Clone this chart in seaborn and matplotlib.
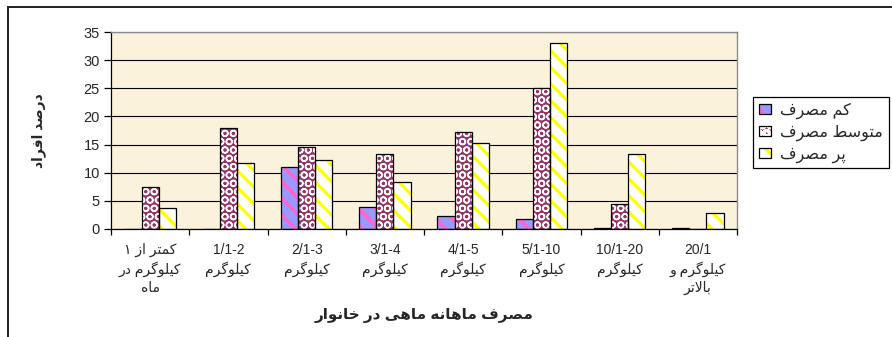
import numpy as np
import pandas as pd
import matplotlib
matplotlib.use("Agg")
import matplotlib.pyplot as plt
from matplotlib.patches import Rectangle, Patch
import seaborn as sns

# ---- data -------------------------------------------------------------
categories = [
    "کمتر از ۱\nکیلوگرم در\nماه",
    "1/1-2\nکیلوگرم",
    "2/1-3\nکیلوگرم",
    "3/1-4\nکیلوگرم",
    "4/1-5\nکیلوگرم",
    "5/1-10\nکیلوگرم",
    "10/1-20\nکیلوگرم",
    "20/1\nکیلوگرم و\nبالاتر",
]
series_names = ["کم مصرف", "متوسط مصرف", "پر مصرف"]
low_use = [0.0, 0.0, 11.1, 3.9, 2.3, 1.7, 0.15, 0.15]
mid_use = [7.4, 17.9, 14.6, 13.4, 17.3, 25.0, 4.5, 0.0]
high_use = [3.7, 11.7, 12.3, 8.3, 15.2, 33.0, 13.4, 2.8]
y_ticks = [0, 5, 10, 15, 20, 25, 30, 35]
x_title = "مصرف ماهانه ماهی در خانوار"
y_title = "درصد افراد"

# ---- minimal Persian shaping (presentation forms, visual order) -------
_FORMS = {
    "ا": (0xFE8D, 0xFE8E, None, None),
    "ب": (0xFE8F, 0xFE90, 0xFE91, 0xFE92),
    "پ": (0xFB56, 0xFB57, 0xFB58, 0xFB59),
    "ت": (0xFE95, 0xFE96, 0xFE97, 0xFE98),
    "خ": (0xFEA5, 0xFEA6, 0xFEA7, 0xFEA8),
    "د": (0xFEA9, 0xFEAA, None, None),
    "ر": (0xFEAD, 0xFEAE, None, None),
    "ز": (0xFEAF, 0xFEB0, None, None),
    "س": (0xFEB1, 0xFEB2, 0xFEB3, 0xFEB4),
    "ص": (0xFEB9, 0xFEBA, 0xFEBB, 0xFEBC),
    "ط": (0xFEC1, 0xFEC2, 0xFEC3, 0xFEC4),
    "ف": (0xFED1, 0xFED2, 0xFED3, 0xFED4),
    "ق": (0xFED5, 0xFED6, 0xFED7, 0xFED8),
    "ک": (0xFB8E, 0xFB8F, 0xFB90, 0xFB91),
    "گ": (0xFB92, 0xFB93, 0xFB94, 0xFB95),
    "ل": (0xFEDD, 0xFEDE, 0xFEDF, 0xFEE0),
    "م": (0xFEE1, 0xFEE2, 0xFEE3, 0xFEE4),
    "ن": (0xFEE5, 0xFEE6, 0xFEE7, 0xFEE8),
    "ه": (0xFEE9, 0xFEEA, 0xFEEB, 0xFEEC),
    "و": (0xFEED, 0xFEEE, None, None),
    "ی": (0xFBFC, 0xFBFD, 0xFBFE, 0xFBFF),
}
_LAM_ALEF = (0xFEFB, 0xFEFC)


def _joins_forward(ch):
    f = _FORMS.get(ch)
    return f is not None and f[2] is not None


def shape_rtl(text):
    lines = []
    for line in text.split("\n"):
        chars = list(line)
        out = []
        i = 0
        while i < len(chars):
            c = chars[i]
            prev_joins = i > 0 and _joins_forward(chars[i - 1])
            if c == "ل" and i + 1 < len(chars) and chars[i + 1] == "ا":
                out.append(chr(_LAM_ALEF[1] if prev_joins else _LAM_ALEF[0]))
                i += 2
                continue
            f = _FORMS.get(c)
            if f is None:
                out.append(c)
                i += 1
                continue
            nxt = chars[i + 1] if i + 1 < len(chars) else None
            next_joins = f[2] is not None and nxt in _FORMS
            if prev_joins and next_joins:
                cp = f[3]
            elif prev_joins:
                cp = f[1]
            elif next_joins:
                cp = f[2]
            else:
                cp = f[0]
            out.append(chr(cp))
            i += 1
        s = "".join(out)
        if any(ch in _FORMS for ch in line):
            s = s[::-1]
        lines.append(s)
    return "\n".join(lines)


# ---- style ------------------------------------------------------------
sns.set_style("ticks")
plt.rcParams["font.family"] = ["Liberation Sans", "DejaVu Sans"]
plt.rcParams["hatch.linewidth"] = 2.2

styles = [
    # face colour, hatch colour, hatch pattern
    ("#9999FF", "#FF66CC", "\\\\"),
    ("#993366", "#FFFFFF", "OO"),
    ("#FFFFFF", "#FFFF00", "\\\\"),
]
hatch_widths = [2.6, 1.1, 2.3]

shaped_cats = [shape_rtl(c) for c in categories]
shaped_series = [shape_rtl(s) for s in series_names]

df = pd.concat(
    [
        pd.DataFrame({"category": shaped_cats, "series": name, "value": vals})
        for name, vals in zip(shaped_series, [low_use, mid_use, high_use])
    ],
    ignore_index=True,
)

fig = plt.figure(figsize=(8.92, 3.37), dpi=100, facecolor="white")
ax = fig.add_axes([111 / 892, 1 - 229 / 337, 626 / 892, 197 / 337])
ax.set_facecolor("#FBF2DC")

sns.barplot(
    data=df, x="category", y="value", hue="series",
    order=shaped_cats, hue_order=shaped_series,
    palette=[s[0] for s in styles], saturation=1, width=0.66,
    errorbar=None, legend=False, ax=ax,
)

# patterned fills with a black outline on top of each bar
for container, (fc, hc, hatch), hw in zip(ax.containers, styles, hatch_widths):
    for p in container:
        p.set_facecolor(fc)
        p.set_edgecolor(hc)
        p.set_hatch(hatch)
        p.set_linewidth(0)
        if hasattr(p, "set_hatch_linewidth"):
            p.set_hatch_linewidth(hw)
        ax.add_patch(Rectangle((p.get_x(), p.get_y()), p.get_width(), p.get_height(),
                               fill=False, edgecolor="black", linewidth=0.9,
                               zorder=p.get_zorder() + 0.1))

n = len(categories)
ax.set_xlim(-0.5, n - 0.5)
ax.set_ylim(0, 35)
ax.set_yticks(y_ticks)
ax.set_xticks(np.arange(n + 1) - 0.5)
ax.set_xticklabels([])
ax.set_xticks(np.arange(n), minor=True)
ax.set_xticklabels(shaped_cats, minor=True, fontsize=10, linespacing=1.35)
ax.tick_params(axis="x", which="major", length=4, width=0.9, color="black")
ax.tick_params(axis="x", which="minor", length=0, pad=10)
ax.tick_params(axis="y", length=5, width=0.9, color="black", labelsize=10.5, pad=3)

ax.set_axisbelow(True)
ax.yaxis.grid(True, color="black", linewidth=0.8)
ax.xaxis.grid(False)
for side in ("top", "right"):
    ax.spines[side].set_color("#8C8C8C")
    ax.spines[side].set_linewidth(1.0)
for side in ("left", "bottom"):
    ax.spines[side].set_color("black")
    ax.spines[side].set_linewidth(0.9)

ax.set_xlabel(shape_rtl(x_title), fontsize=11, fontweight="bold")
ax.xaxis.set_label_coords(0.5, -0.40)
ax.set_ylabel(shape_rtl(y_title), fontsize=10, fontweight="bold")
ax.yaxis.set_label_coords(-0.104, 0.5)

# legend
handles = []
for (fc, hc, hatch), hw in zip(styles, hatch_widths):
    fill = Patch(facecolor=fc, edgecolor=hc, hatch=hatch, linewidth=0)
    if hasattr(fill, "set_hatch_linewidth"):
        fill.set_hatch_linewidth(hw)
    edge = Patch(facecolor="none", edgecolor="black", linewidth=0.9)
    handles.append((fill, edge))
leg = fig.legend(
    handles, shaped_series, loc="upper left",
    bbox_to_anchor=(753 / 892, 1 - 97 / 337), bbox_transform=fig.transFigure,
    fontsize=11.5, frameon=True, fancybox=False, framealpha=1, edgecolor="black",
    handlelength=0.75, handleheight=0.6, handletextpad=0.6,
    labelspacing=0.35, borderpad=0.35, borderaxespad=0,
)
leg.get_frame().set_linewidth(0.9)

# chart border
fig.add_artist(Rectangle((8 / 892, -0.1), 1.2, 1.1 - 7 / 337, transform=fig.transFigure,
                         fill=False, edgecolor="#202020", linewidth=1.4, clip_on=False))

fig.savefig("out.png", dpi=100, facecolor="white")
